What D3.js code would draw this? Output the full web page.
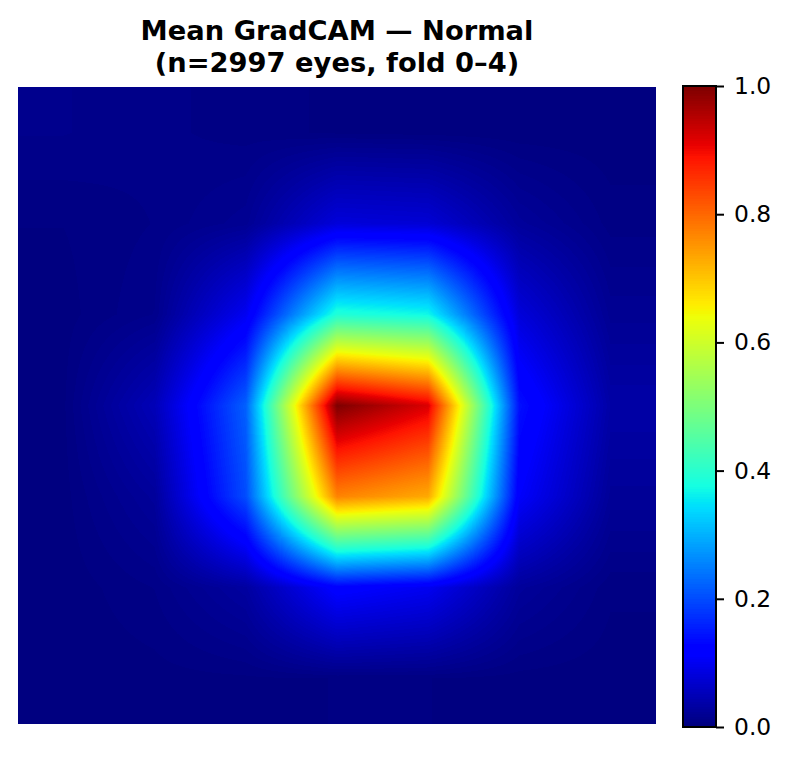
<!DOCTYPE html>
<html>
<head>
<meta charset="utf-8">
<script src="https://cdn.jsdelivr.net/npm/d3@7"></script>
<style>
	body { margin: 0; background: #fff; }
	svg { display: block; }
	text { font-family: "DejaVu Sans", sans-serif; fill: #000; }
</style>
</head>
<body>
<div id="chart-area"></div>
<script>
// SVG Size
const width = 790,
	height = 759;

// Mean GradCAM on the 7x7 feature grid, one array per row
const row0 = [0.012, 0.009, 0.006, 0.003, 0.002, 0.001, 0.001];
const row1 = [0.004, 0.008, 0.018, 0.080, 0.075, 0.025, 0.006];
const row2 = [0.002, 0.012, 0.100, 0.390, 0.370, 0.080, 0.018];
const row3 = [0.003, 0.050, 0.220, 1.000, 0.920, 0.140, 0.035];
const row4 = [0.002, 0.025, 0.200, 0.770, 0.730, 0.110, 0.022];
const row5 = [0.001, 0.008, 0.030, 0.120, 0.100, 0.025, 0.005];
const row6 = [0.001, 0.002, 0.003, 0.004, 0.004, 0.002, 0.001];
const camRows = [row0, row1, row2, row3, row4, row5, row6];

const titleLines = ["Mean GradCAM — Normal", "(n=2997 eyes, fold 0–4)"];
const colorbarTicks = [0, 0.2, 0.4, 0.6, 0.8, 1];

// Jet colormap knots
const jetR = d3.scaleLinear().domain([0, 0.35, 0.66, 0.89, 1]).range([0, 0, 1, 1, 0.5]);
const jetG = d3.scaleLinear().domain([0, 0.125, 0.375, 0.64, 0.91, 1]).range([0, 0, 1, 1, 0, 0]);
const jetB = d3.scaleLinear().domain([0, 0.11, 0.34, 0.65, 1]).range([0.5, 1, 1, 0, 0]);

function jet(v) {
	// 256 steps like a matplotlib colormap
	const q = Math.min(255, Math.max(0, Math.floor(v * 256))) / 255;
	return [jetR(q) * 255, jetG(q) * 255, jetB(q) * 255];
}

const heatX = d3.scaleLinear().domain([0, camRows[0].length]).range([18, 656]);
const heatY = d3.scaleLinear().domain([0, camRows.length]).range([87, 724]);
const barY = d3.scaleLinear().domain([0, 1]).range([727, 86]);

const svg = d3.select("#chart-area")
	.append("svg")
	.attr("width", width)
	.attr("height", height);

// Bilinear upsampling between the grid cell centres
function sampleCam(col, row) {
	const n = camRows.length - 1;
	const c = Math.max(0, Math.min(n, col - 0.5));
	const r = Math.max(0, Math.min(n, row - 0.5));
	const c0 = Math.min(n - 1, Math.floor(c)), r0 = Math.min(n - 1, Math.floor(r));
	const top = d3.interpolateNumber(camRows[r0][c0], camRows[r0][c0 + 1])(c - c0);
	const bottom = d3.interpolateNumber(camRows[r0 + 1][c0], camRows[r0 + 1][c0 + 1])(c - c0);
	return d3.interpolateNumber(top, bottom)(r - r0);
}

function paintImage(x0, y0, w, h, valueAt) {
	const canvas = document.createElement("canvas");
	canvas.width = w;
	canvas.height = h;
	const ctx = canvas.getContext("2d");
	const img = ctx.createImageData(w, h);
	for (let py = 0; py < h; py++) {
		for (let px = 0; px < w; px++) {
			const rgb = jet(valueAt(x0 + px + 0.5, y0 + py + 0.5));
			const i = (py * w + px) * 4;
			img.data[i] = rgb[0];
			img.data[i + 1] = rgb[1];
			img.data[i + 2] = rgb[2];
			img.data[i + 3] = 255;
		}
	}
	ctx.putImageData(img, 0, 0);
	svg.append("image")
		.attr("x", x0)
		.attr("y", y0)
		.attr("width", w)
		.attr("height", h)
		.attr("href", canvas.toDataURL());
}

// Heatmap
paintImage(heatX.range()[0], heatY.range()[0],
	heatX.range()[1] - heatX.range()[0], heatY.range()[1] - heatY.range()[0],
	(x, y) => sampleCam(heatX.invert(x), heatY.invert(y)));

// Colorbar
paintImage(683, 86, 33, 641, (x, y) => barY.invert(y));

svg.append("rect")
	.attr("x", 683)
	.attr("y", 86)
	.attr("width", 33)
	.attr("height", 641)
	.attr("fill", "none")
	.attr("stroke", "#000")
	.attr("stroke-width", 2);

const barAxis = d3.axisRight(barY)
	.tickValues(colorbarTicks)
	.tickFormat(d3.format(".1f"))
	.tickSize(8)
	.tickPadding(10);

const barAxisG = svg.append("g")
	.attr("class", "y-axis")
	.attr("transform", "translate(716,0)")
	.call(barAxis);

barAxisG.select(".domain").remove();
barAxisG.selectAll("line").attr("stroke", "#000").attr("stroke-width", 2);
barAxisG.selectAll("text")
	.attr("font-family", "DejaVu Sans")
	.attr("font-size", 23.4);

// Title
svg.selectAll(".title-line")
	.data(titleLines)
	.enter()
	.append("text")
	.attr("class", "title-line")
	.attr("text-anchor", "middle")
	.attr("x", 337)
	.attr("y", (d, i) => 40 + i * 32)
	.attr("font-weight", "bold")
	.attr("font-size", 27.3)
	.text(d => d);
</script>
</body>
</html>
